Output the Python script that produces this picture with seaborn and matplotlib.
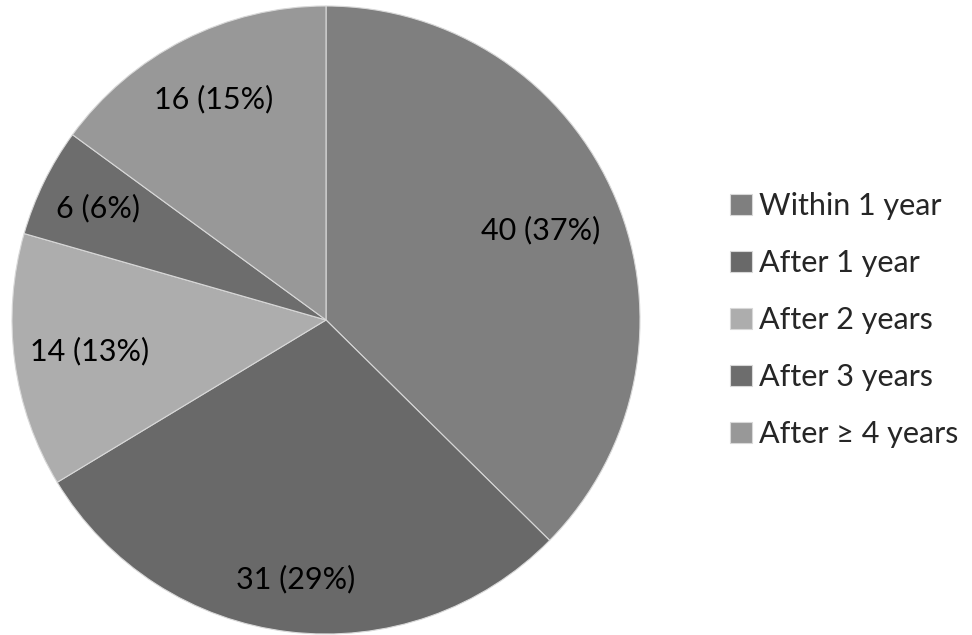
import matplotlib
matplotlib.use("Agg")
import matplotlib.pyplot as plt
import seaborn as sns
import numpy as np

categories = ["Within 1 year", "After 1 year", "After 2 years", "After 3 years", "After \u2265 4 years"]
counts = [40, 31, 14, 6, 16]
percents = [37, 29, 13, 6, 15]
colors = ["#7f7f7f", "#696969", "#adadad", "#6d6d6d", "#989898"]
label_dist = [0.74, 0.83, 0.76, 0.81, 0.79]

sns.set_theme(style="white")
plt.rcParams['font.family'] = ['Lato', 'DejaVu Sans']

W, H = 972, 635
fig = plt.figure(figsize=(W / 100, H / 100), dpi=100)
cx, cy, r = 326, 320, 314
ax = fig.add_axes([(cx - r) / W, (H - cy - r) / H, 2 * r / W, 2 * r / H])

wedges, _ = ax.pie(counts, colors=colors, startangle=90, counterclock=False,
                   radius=1, wedgeprops=dict(edgecolor="#d8d8d8", linewidth=0.8))
ax.set_xlim(-1, 1)
ax.set_ylim(-1, 1)
ax.set_aspect("equal")
ax.axis("off")

for w, c, p, d in zip(wedges, counts, percents, label_dist):
    ang = np.deg2rad((w.theta1 + w.theta2) / 2)
    ax.text(d * np.cos(ang), d * np.sin(ang), f"{c} ({p}%)", ha="center", va="center",
            fontsize=22, color="black")

leg = fig.legend(wedges, categories, loc="center left", bbox_to_anchor=(718 / W, 1 - 320 / H),
                 frameon=False, fontsize=22, handlelength=0.7, handleheight=0.7,
                 handletextpad=0.25, labelspacing=0.95, borderaxespad=0)

fig.savefig("out.png", dpi=100)
